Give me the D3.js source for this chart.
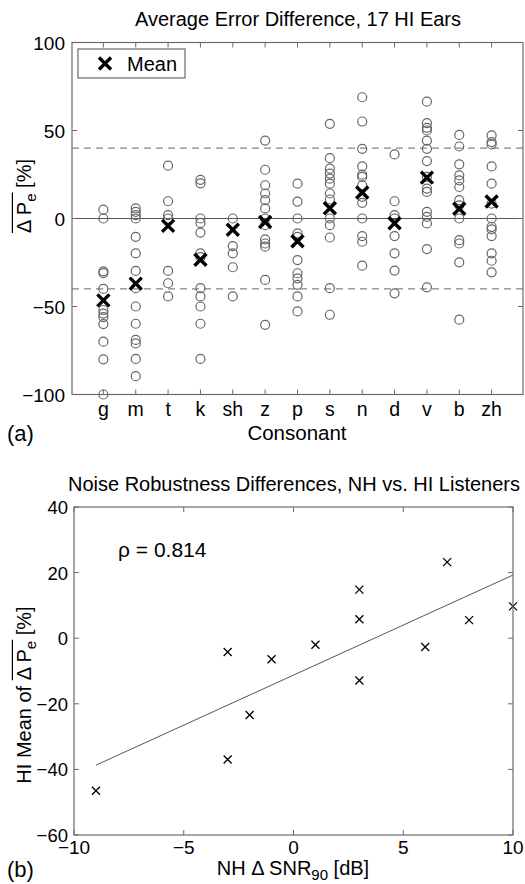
<!DOCTYPE html>
<html>
<head>
<meta charset="utf-8">
<script src="https://cdn.jsdelivr.net/npm/d3@7"></script>
<style>
  body { margin: 0; background: #fff; }
  svg { display: block; font-family: 'Liberation Sans', Arial, Helvetica, sans-serif; }
</style>
</head>
<body>
<svg id="vis" width="525" height="884"></svg>
<script>
// consonants in plotted order
const consonants = ['g', 'm', 't', 'k', 'sh', 'z', 'p', 's', 'n', 'd', 'v', 'b', 'zh'];

// per-ear error difference [%], one list per consonant
const earDiff = [
  [5, 0, -30, -31, -40, -52, -54, -56, -60, -70, -80, -100],
  [5.7, 3.8, 1.9, 0, -10.4, -19.8, -29.8, -39.6, -50, -59.8, -69, -71, -79.8, -89.6],
  [30, 9.8, 1.9, 0, -29.8, -36.8, -44.3],
  [22, 20, 0, -2.5, -8, -19.8, -22, -39.6, -44.3, -50, -59.8, -79.8],
  [0, -15.7, -19.8, -27.7, -44.3],
  [44.3, 27.7, 18.9, 14.2, 10.4, 5.7, 0, -3.8, -11.9, -14.2, -16, -34.9, -60.4],
  [19.8, 9.6, 0, -8.5, -10.4, -23.6, -31.1, -34, -37.7, -44.3, -52.8],
  [53.8, 34.3, 28.3, 25.5, 22.6, 19.8, 14.2, 10.8, 0, -3.8, -10.8, -39.6, -54.7],
  [68.9, 55.1, 39.6, 29.6, 24.9, 23.6, 18.9, 12.3, 8.9, 0, -10, -13.2, -26.8],
  [36.4, 9.8, 1.9, 0, -10, -19.8, -29.6, -42.5],
  [66.4, 54.2, 51.5, 50, 44.3, 39.6, 32.6, 23.6, 17, 15.1, 3.8, 0.9, -2.8, -17.4, -39.1],
  [47.5, 40.9, 30.8, 24.5, 21.7, 17.9, 10.4, 7.5, 0, -12.3, -14.2, -24.9, -57.5],
  [47.2, 43.4, 42.1, 29.6, 19.8, 8.5, 0, -4.7, -6.2, -10, -19.8, -24, -30.6]
];

// HI mean per consonant (black X in a, y of b)
const hiMean = [-46.5, -37, -4.2, -23.4, -6.4, -2, -12.9, 5.8, 14.8, -2.7, 23.2, 5.5, 9.7];
// NH delta SNR90 per consonant [dB] (x of b)
const nhSnr90 = [-9, -3, -3, -2, -1, 1, 3, 3, 3, 6, 7, 8, 10];

const yTicksA = [-100, -50, 0, 50, 100];
const refLinesA = [40, -40];
const xTicksB = [-10, -5, 0, 5, 10];
const yTicksB = [-60, -40, -20, 0, 20, 40];

const svg = d3.select('#vis');
const axisColor = '#6b6b6b';
const fmt = v => (v < 0 ? '\u2212' + Math.abs(v) : '' + v);
const tickFont = 19;

// ---------- panel (a) ----------
const A = {left: 72, right: 523, top: 42.5, bottom: 394.5};
const xa = d3.scalePoint().domain(consonants).range([A.left, A.right]).padding(0.97);
const ya = d3.scaleLinear().domain([-100, 100]).range([A.bottom, A.top]);

const ga = svg.append('g');

// reference lines
ga.append('line')
    .attr('x1', A.left).attr('x2', A.right)
    .attr('y1', ya(0)).attr('y2', ya(0))
    .attr('stroke', '#555').attr('stroke-width', 1);
ga.selectAll('.ref').data(refLinesA).enter().append('line')
    .attr('x1', A.left).attr('x2', A.right)
    .attr('y1', d => ya(d)).attr('y2', d => ya(d))
    .attr('stroke', '#666').attr('stroke-width', 1)
    .attr('stroke-dasharray', '7,5');

// ear circles
earDiff.forEach((vals, i) => {
  ga.append('g').selectAll('circle').data(vals).enter().append('circle')
      .attr('cx', xa(consonants[i]))
      .attr('cy', d => ya(d))
      .attr('r', 4.5)
      .attr('fill', 'none')
      .attr('stroke', '#666')
      .attr('stroke-width', 1.2);
});

function cross(sel, s, w, color) {
  sel.append('path')
      .attr('d', `M${-s},${-s}L${s},${s}M${-s},${s}L${s},${-s}`)
      .attr('stroke', color).attr('stroke-width', w).attr('fill', 'none');
}

// means
ga.selectAll('.mean').data(hiMean).enter().append('g')
    .attr('transform', (d, i) => `translate(${xa(consonants[i])},${ya(d)})`)
    .each(function() { cross(d3.select(this), 6, 3.4, '#000'); });

function frame(g, box, color) {
  g.append('rect')
      .attr('x', box.left).attr('y', box.top)
      .attr('width', box.right - box.left).attr('height', box.bottom - box.top)
      .attr('fill', 'none').attr('stroke', color).attr('stroke-width', 1.2);
}

// ticks (inside, all four sides)
const tl = 5;
ga.selectAll('.xt').data(consonants).enter().append('path')
    .attr('d', d => `M${xa(d)},${A.bottom}v${-tl}M${xa(d)},${A.top}v${tl}`)
    .attr('stroke', axisColor);
ga.selectAll('.yt').data(yTicksA).enter().append('path')
    .attr('d', d => `M${A.left},${ya(d)}h${tl}M${A.right},${ya(d)}h${-tl}`)
    .attr('stroke', axisColor);
frame(ga, A, axisColor);

ga.selectAll('.xl').data(consonants).enter().append('text')
    .attr('x', d => xa(d)).attr('y', 416)
    .attr('text-anchor', 'middle').attr('font-size', 19.5)
    .text(d => d);
ga.selectAll('.yl').data(yTicksA).enter().append('text')
    .attr('x', A.left - 7).attr('y', d => ya(d) + 7)
    .attr('text-anchor', 'end').attr('font-size', tickFont)
    .text(fmt);

ga.append('text').attr('x', 298).attr('y', 26)
    .attr('text-anchor', 'middle').attr('font-size', 20)
    .text('Average Error Difference, 17 HI Ears');
ga.append('text').attr('x', 297).attr('y', 440)
    .attr('text-anchor', 'middle').attr('font-size', 20.5)
    .text('Consonant');
ga.append('text').attr('x', 7).attr('y', 441)
    .attr('font-size', 22).text('(a)');

// legend
const lg = ga.append('g');
lg.append('rect').attr('x', 78).attr('y', 49).attr('width', 107).attr('height', 29)
    .attr('fill', '#fff').attr('stroke', axisColor).attr('stroke-width', 1.2);
cross(lg.append('g').attr('transform', 'translate(105,63.5)'), 6, 3.4, '#000');
lg.append('text').attr('x', 127).attr('y', 70.5).attr('font-size', 20).text('Mean');

// y label with overlined "Δ P_e"
function overLabel(g, baseY, pre, post, size) {
  const t = g.append('text').attr('font-size', size).attr('y', baseY);
  t.append('tspan').text(pre);
  t.append('tspan').text('\u0394 P');
  t.append('tspan').attr('dy', 5).attr('font-size', size * 0.75).text('e');
  t.append('tspan').attr('dy', -5).text(post);
  const total = t.node().getComputedTextLength();
  const x0 = -total / 2;
  t.attr('x', x0);
  const n0 = pre.length;
  const s = x0 + (n0 ? t.node().getSubStringLength(0, n0) : 0);
  const w = t.node().getSubStringLength(n0, 4);
  g.append('line')
      .attr('x1', s).attr('x2', s + w + 1)
      .attr('y1', baseY - size * 0.93).attr('y2', baseY - size * 0.93)
      .attr('stroke', '#000').attr('stroke-width', 1.2);
}

overLabel(ga.append('g').attr('transform', 'translate(31,196) rotate(-90)'), 0, '', ' [%]', 20);

// ---------- panel (b) ----------
const B = {left: 74, right: 513, top: 507, bottom: 835};
const xb = d3.scaleLinear().domain([-10, 10]).range([B.left, B.right]);
const yb = d3.scaleLinear().domain([-60, 40]).range([B.bottom, B.top]);
const gb = svg.append('g');

// least-squares fit over the plotted points
const mx = d3.mean(nhSnr90), my = d3.mean(hiMean);
const slope = d3.sum(nhSnr90, (x, i) => (x - mx) * (hiMean[i] - my)) /
    d3.sum(nhSnr90, x => (x - mx) * (x - mx));
const fit = x => my + slope * (x - mx);
const xr = d3.extent(nhSnr90);
gb.append('line')
    .attr('x1', xb(xr[0])).attr('y1', yb(fit(xr[0])))
    .attr('x2', xb(xr[1])).attr('y2', yb(fit(xr[1])))
    .attr('stroke', '#555').attr('stroke-width', 1);

gb.selectAll('.pt').data(hiMean).enter().append('g')
    .attr('transform', (d, i) => `translate(${xb(nhSnr90[i])},${yb(d)})`)
    .each(function() { cross(d3.select(this), 4, 1.3, '#000'); });

gb.selectAll('.xt').data(xTicksB).enter().append('path')
    .attr('d', d => `M${xb(d)},${B.bottom}v${-tl}M${xb(d)},${B.top}v${tl}`)
    .attr('stroke', axisColor);
gb.selectAll('.yt').data(yTicksB).enter().append('path')
    .attr('d', d => `M${B.left},${yb(d)}h${tl}M${B.right},${yb(d)}h${-tl}`)
    .attr('stroke', axisColor);
frame(gb, B, axisColor);

gb.selectAll('.xl').data(xTicksB).enter().append('text')
    .attr('x', d => xb(d)).attr('y', 854)
    .attr('text-anchor', 'middle').attr('font-size', tickFont)
    .text(fmt);
gb.selectAll('.yl').data(yTicksB).enter().append('text')
    .attr('x', B.left - 6).attr('y', d => yb(d) + 7)
    .attr('text-anchor', 'end').attr('font-size', 18.5)
    .text(fmt);

gb.append('text').attr('x', 294).attr('y', 491)
    .attr('text-anchor', 'middle').attr('font-size', 20)
    .text('Noise Robustness Differences, NH vs. HI Listeners');
gb.append('text').attr('x', 118).attr('y', 557)
    .attr('font-size', 21).text('\u03c1 = 0.814');
gb.append('text').attr('x', 7).attr('y', 877)
    .attr('font-size', 22).text('(b)');

const xlab = gb.append('text').attr('x', 293).attr('y', 875)
    .attr('text-anchor', 'middle').attr('font-size', 20);
xlab.append('tspan').text('NH \u0394 SNR');
xlab.append('tspan').attr('dy', 5).attr('font-size', 15).text('90');
xlab.append('tspan').attr('dy', -5).text(' [dB]');

overLabel(gb.append('g').attr('transform', 'translate(31,695) rotate(-90)'), 0, 'HI Mean of ', '  [%]', 20);
</script>
</body>
</html>
